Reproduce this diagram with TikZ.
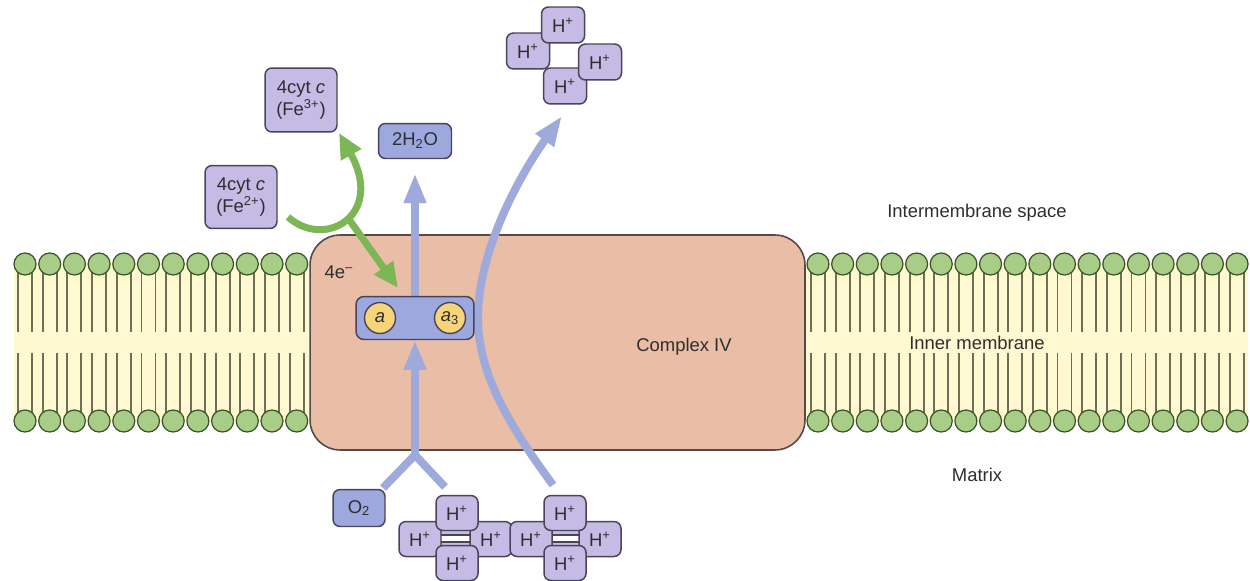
\documentclass[tikz,border=0pt]{standalone}
\usepackage{fontspec}
\setmainfont{Liberation Sans}
\usepackage{tikz}
\usetikzlibrary{arrows.meta,positioning}

\definecolor{headgreen}{HTML}{A8CD86}
\definecolor{headline}{HTML}{3A5426}
\definecolor{tailgray}{HTML}{6F6F55}
\definecolor{bandyellow}{HTML}{FEF9D0}
\definecolor{cplxfill}{HTML}{EABDA6}
\definecolor{cplxline}{HTML}{55494A}
\definecolor{ionpurple}{HTML}{C5BBE4}
\definecolor{molblue}{HTML}{9CA8DE}
\definecolor{boxline}{HTML}{48445A}
\definecolor{flowblue}{HTML}{9FAADC}
\definecolor{egreen}{HTML}{7DB655}
\definecolor{hemeyellow}{HTML}{F6D47A}
\definecolor{txtgray}{HTML}{2E2E2E}

\tikzset{
  lipidhead/.style={circle,draw=headline,fill=headgreen,line width=0.7pt,minimum size=0.44cm,inner sep=0pt},
  lipidtail/.style={draw=tailgray,line width=1.1pt},
  ion/.style={draw=boxline,fill=ionpurple,rounded corners=0.14cm,line width=0.85pt,
    minimum width=0.86cm,minimum height=0.72cm,inner sep=0pt,text=txtgray},
  mol/.style={ion,fill=molblue},
  heme/.style={circle,draw=boxline,fill=hemeyellow,line width=0.8pt,minimum size=0.62cm,inner sep=0pt,text=txtgray},
  lbl/.style={text=txtgray},
  flowline/.style={draw=flowblue,line width=0.16cm},
  flow/.style={flowline,-{Triangle[length=0.6cm,width=0.42cm]}},
  eflow/.style={draw=egreen,line width=0.14cm,-{Triangle[length=0.5cm,width=0.44cm]}},
}

\begin{document}
\begin{tikzpicture}[x=0.02cm,y=-0.02cm,every node/.style={font=\fontsize{10.5}{12.5}\selectfont}]
  \useasboundingbox (0,0) rectangle (1250,581);

  % membrane: band, tails, heads
  \fill[bandyellow] (14,264) rectangle (1248,421);
  \foreach \i in {0,...,11} {
    \pgfmathsetmacro\cx{25+24.7*\i}
    \draw[lipidtail] (\cx-7,264) -- (\cx-7,332);
    \draw[lipidtail] (\cx+7,264) -- (\cx+7,332);
    \draw[lipidtail] (\cx-7,353) -- (\cx-7,421);
    \draw[lipidtail] (\cx+7,353) -- (\cx+7,421);
    \node[lipidhead] (lt\i) at (\cx,264) {};
    \node[lipidhead] (lb\i) at (\cx,421) {};
  }
  \foreach \i in {0,...,17} {
    \pgfmathsetmacro\cx{818+24.65*\i}
    \draw[lipidtail] (\cx-7,264) -- (\cx-7,332);
    \draw[lipidtail] (\cx+7,264) -- (\cx+7,332);
    \draw[lipidtail] (\cx-7,353) -- (\cx-7,421);
    \draw[lipidtail] (\cx+7,353) -- (\cx+7,421);
    \node[lipidhead] (rt\i) at (\cx,264) {};
    \node[lipidhead] (rb\i) at (\cx,421) {};
  }

  % complex IV
  \node[draw=cplxline,fill=cplxfill,line width=0.9pt,rounded corners=0.6cm,
    minimum width=9.9cm,minimum height=4.3cm] (cox) at (557.5,342.5) {};
  \node[lbl] (coxlbl) at (684,347) {Complex IV};
  \node[lbl] (elec) at (339,272) {4e\textsuperscript{\textendash}};

  % region labels
  \node[lbl] (ims) at (977,213) {Intermembrane space};
  \node[lbl] (inm) at (977,343) {Inner membrane};
  \node[lbl] (mtx) at (977,475) {Matrix};

  % products and substrates
  \node[ion,minimum width=1.44cm,minimum height=1.28cm,align=center] (fe3) at (301,100)
    {4cyt \textit{c}\\(Fe\textsuperscript{3+})};
  \node[ion,minimum width=1.44cm,minimum height=1.26cm,align=center] (fe2) at (241,197)
    {4cyt \textit{c}\\(Fe\textsuperscript{2+})};
  \node[mol,minimum width=1.46cm,minimum height=0.7cm] (h2o) at (415,141) {2H\textsubscript{2}O};
  \node[mol,minimum width=1.04cm,minimum height=0.74cm] (o2) at (359,508) {O\textsubscript{2}};

  % pumped protons
  \node[ion] (hu2) at (528,51) {H\textsuperscript{+}};
  \node[ion] (hu1) at (563,25) {H\textsuperscript{+}};
  \node[ion] (hu4) at (565,86) {H\textsuperscript{+}};
  \node[ion] (hu3) at (600,62) {H\textsuperscript{+}};

  % matrix protons
  \filldraw[draw=boxline,fill=ionpurple,line width=0.8pt] (438,529) rectangle (476,548);
  \filldraw[draw=boxline,fill=white,line width=0.8pt] (438,535) rectangle (476,542);
  \filldraw[draw=boxline,fill=ionpurple,line width=0.8pt] (547,529) rectangle (584,548);
  \filldraw[draw=boxline,fill=white,line width=0.8pt] (547,535) rectangle (584,542);
  \node[ion,minimum width=0.84cm,minimum height=0.7cm] (ha1) at (420,539) {H\textsuperscript{+}};
  \node[ion,minimum width=0.84cm,minimum height=0.7cm] (ha2) at (491,539) {H\textsuperscript{+}};
  \node[ion,minimum width=0.84cm,minimum height=0.7cm] (ha3) at (457,513) {H\textsuperscript{+}};
  \node[ion,minimum width=0.84cm,minimum height=0.7cm] (ha4) at (457,563) {H\textsuperscript{+}};
  \node[ion,minimum width=0.84cm,minimum height=0.7cm] (hb1) at (531,539) {H\textsuperscript{+}};
  \node[ion,minimum width=0.84cm,minimum height=0.7cm] (hb2) at (600,539) {H\textsuperscript{+}};
  \node[ion,minimum width=0.84cm,minimum height=0.7cm] (hb3) at (565,513) {H\textsuperscript{+}};
  \node[ion,minimum width=0.84cm,minimum height=0.7cm] (hb4) at (565,563) {H\textsuperscript{+}};

  % flow of O2 and protons
  \coordinate (o2in) at (383,488);
  \coordinate (hin) at (445,487);
  \coordinate (join) at (415,455);
  \coordinate (pin) at (553,485);
  \coordinate (pout) at (562,116);
  \draw[flowline,line join=round] (o2in) -- (join) -- (hin);
  \draw[flow] (join) -- (415,340);
  \draw[flow] (415,297) -- (h2o.south) [shorten >=0.28cm];
  \draw[flow] (pin) .. controls (505,420) and (478,370) .. (478,318)
    .. controls (478,250) and (520,175) .. (pout);

  % electrons from cytochrome c
  \coordinate (cin) at (288,217);
  \coordinate (cout) at (339,133);
  \coordinate (efork) at (348,218);
  \coordinate (etip) at (398,288);
  \draw[eflow] (cin) .. controls (325,250) and (385,215) .. (cout);
  \draw[eflow] (efork) -- (etip);

  % heme a and a3
  \node[mol,minimum width=2.36cm,minimum height=0.86cm,rounded corners=0.16cm] (hemes) at (415,318) {};
  \node[heme] (hema) at (380,318) {\textit{a}};
  \node[heme] (hema3) at (450,318) {\textit{a}\textsubscript{3}};
\end{tikzpicture}
\end{document}
